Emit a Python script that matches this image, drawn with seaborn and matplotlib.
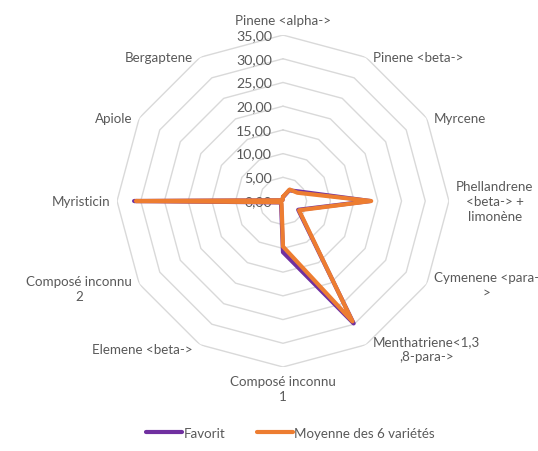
import numpy as np
import pandas as pd
import matplotlib
matplotlib.use("Agg")
import matplotlib.pyplot as plt
import seaborn as sns

# data
categories = ["Pinene <alpha->", "Pinene <beta->", "Myrcene",
              "Phellandrene\n<beta-> +\nlimonène", "Cymenene <para-\n>",
              "Menthatriene<1,3\n,8-para->", "Composé inconnu\n1",
              "Elemene <beta->", "Composé inconnu\n2", "Myristicin",
              "Apiole", "Bergaptene"]
favorit = [0.8, 2.6, 4.0, 18.4, 3.7, 29.8, 10.8, 0.8, 0.6, 31.4, 0.3, 0.2]
moyenne = [0.9, 2.8, 3.5, 18.6, 3.9, 29.3, 9.6, 0.6, 0.5, 31.0, 0.3, 0.2]
series_names = ["Favorit", "Moyenne des 6 variétés"]
ring_values = [0, 5, 10, 15, 20, 25, 30, 35]
ring_labels = ["0,00", "5,00", "10,00", "15,00", "20,00", "25,00", "30,00", "35,00"]

colors = {"Favorit": "#7030A0", "Moyenne des 6 variétés": "#ED7D31"}
grey = "#595959"
fs = 9.6

sns.set_theme(style="white")
plt.rcParams["font.family"] = ["Lato", "DejaVu Sans"]

n = len(categories)
theta = np.linspace(0, 2 * np.pi, n, endpoint=False)
theta_closed = np.append(theta, 2 * np.pi)

rows = []
for name, vals in zip(series_names, [favorit, moyenne]):
    closed = list(vals) + [vals[0]]
    for t, v in zip(theta_closed, closed):
        rows.append({"theta": t, "valeur": v, "serie": name})
df = pd.DataFrame(rows)

fig = plt.figure(figsize=(5.38, 4.52), dpi=100)
ax = fig.add_axes([0.2175, 0.1858, 0.617, 0.7345], projection="polar")
ax.set_theta_zero_location("N")
ax.set_theta_direction(-1)
ax.set_ylim(0, 35)
ax.grid(False)
ax.spines["polar"].set_visible(False)
ax.set_xticks([])
ax.set_yticks([])
ax.patch.set_alpha(0)

# polygon gridlines
for r in ring_values[1:]:
    ax.plot(theta_closed, [r] * (n + 1), color="#d9d9d9", lw=1.0, zorder=1)

sns.lineplot(data=df, x="theta", y="valeur", hue="serie", palette=colors,
             hue_order=series_names, sort=False, estimator=None,
             linewidth=3, ax=ax, zorder=3)
ax.set_xlabel("")
ax.set_ylabel("")
handles, labels = ax.get_legend_handles_labels()
ax.get_legend().remove()

# radial value labels along the top axis
for r, lab in zip(ring_values, ring_labels):
    ax.annotate(lab, xy=(0, r), xytext=(-11, 0), textcoords="offset pixels",
                ha="right", va="center", fontsize=fs + 0.6, color=grey, zorder=2)

# category labels
for t, lab in zip(theta, categories):
    s = np.sin(t)
    c = np.cos(t)
    if abs(s) < 0.01:
        ha = "center"
        if c > 0:
            va, off = "bottom", (0, 9)
        else:
            va, off = "top", (0, -8)
    else:
        ha = "left" if s > 0 else "right"
        off = (7 * np.sign(s), 0)
        va = "center"
        if c < -0.5:
            off = (off[0], -4)
    ax.annotate(lab, xy=(t, 35), xytext=off, textcoords="offset pixels",
                ha=ha, va=va, multialignment="center", fontsize=fs,
                color=grey, linespacing=1.3)

fig.legend(handles, labels, loc="center", bbox_to_anchor=(0.54, 0.04),
           ncol=2, frameon=False, fontsize=fs, handlelength=2.7,
           handletextpad=0.1, columnspacing=2.4, labelcolor=grey)

fig.savefig("out.png", dpi=100)
